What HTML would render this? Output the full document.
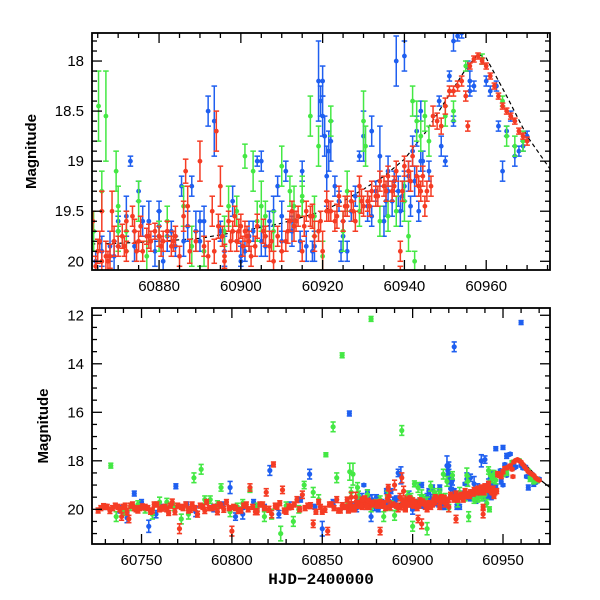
<!DOCTYPE html>
<html><head><meta charset="utf-8"><style>
html,body{margin:0;padding:0;background:#fff;}
svg{display:block;font-family:"Liberation Sans",sans-serif;}
</style></head><body>
<svg id="chart" width="600" height="600" viewBox="0 0 600 600" xmlns="http://www.w3.org/2000/svg"></svg>
<script>
// ---- data: [HJD-2400000, magnitude, error]
const blueT=[60864.5,60868,60870,60872,60873,60875,60876,60880,60882,60883,60884,60885.5,60888,60889,60891,60892,60893.5,60898,60899,60901,60903,60904,60905,60907,60908,60909,60911,60912.5,60914.5,60916,60917.5,60919,60919.5,60920,60920.5,60921,60922,60923,60924,60924.5,60927,60929,60930,60932,60934,60935,60936,60937,60938,60938.5,60939,60940,60941,60942,60943,60943.5,60944,60948.5,60950,60951,60953,60954,60955.5,60957,60960,60961,60962.5,60963,60964,60965,60966,60968,60969,60970,
60746,60754,60769,60821,60843,60865,60923,60960,60730,60738,60742,60750,60758,60762,60775,60780,60790,60795,60799,60802,60806,60812,60818,60826,60832,60838,60846,60850,60856,60870,60877,60880,60886,60890,60895,60900,60905,60910,60915,60920,60926,60932,60936,60940,60944,60946,60950,60952,60956,60967,
60866,60869,60874,60877.5,60879,60881,60887,60890,60896,60900,60902,60906,60910,60913,60918,60921.5,60925,60928,60931,60933,60935.5,60937.5,60939.5,60941.5,60942.5,60944.5,60946,60949,60952,60956];
const blueM=[20.0,19.85,19.7,19.55,19.0,19.3,19.6,19.65,19.75,19.7,19.85,19.25,19.25,19.7,19.6,18.5,18.6,19.4,19.8,19.9,19.7,19.0,19.8,19.6,19.5,19.25,19.1,19.7,19.8,19.85,19.9,18.2,18.4,18.55,18.75,19.15,18.8,19.25,19.4,19.9,19.5,18.95,18.75,19.55,18.95,19.6,19.1,19.4,18.0,19.3,19.5,19.25,19.15,18.9,18.7,19.5,18.5,18.4,19.0,18.15,17.75,17.72,18.05,18.25,18.2,18.3,18.25,18.65,19.1,18.7,18.55,18.9,18.85,18.75,
19.35,20.7,19.05,18.4,18.55,16.05,13.3,12.3,19.9,20.0,20.35,19.7,20.2,19.9,19.8,20.1,19.95,19.8,19.1,20.3,20.2,19.7,19.9,20.2,19.85,19.6,19.9,20.8,19.7,19.6,20.3,19.5,19.8,19.6,19.7,20.0,19.0,19.8,19.1,18.2,19.9,18.7,19.3,17.95,19.0,17.5,17.45,17.8,18.2,18.95,
19.9,19.95,19.85,19.6,19.9,20.0,19.65,19.8,19.9,19.95,19.75,19.85,19.55,19.6,19.85,18.9,19.75,19.35,19.45,19.3,19.4,19.2,19.35,19.45,19.2,19.0,19.1,18.85,18.6,18.3];
const blueE=[0.1,0.15,0.15,0.2,0.05,0.1,0.15,0.15,0.15,0.1,0.1,0.1,0.1,0.2,0.15,0.15,0.35,0.15,0.1,0.1,0.1,0.05,0.15,0.1,0.15,0.1,0.1,0.15,0.1,0.15,0.1,0.4,0.15,0.2,0.2,0.3,0.2,0.1,0.1,0.1,0.1,0.05,0.25,0.1,0.3,0.15,0.15,0.15,0.25,0.15,0.15,0.15,0.15,0.15,0.15,0.1,0.1,0.05,0.05,0.05,0.05,0.05,0.05,0.05,0.05,0.05,0.05,0.05,0.1,0.05,0.05,0.05,0.05,0.05,
0.1,0.25,0.1,0.2,0.2,0.1,0.2,0.08,0.1,0.15,0.2,0.1,0.15,0.1,0.1,0.2,0.15,0.1,0.25,0.15,0.2,0.1,0.1,0.15,0.15,0.1,0.1,0.3,0.1,0.1,0.2,0.1,0.15,0.1,0.1,0.2,0.1,0.1,0.1,0.15,0.1,0.15,0.1,0.15,0.1,0.08,0.08,0.1,0.1,0.1,
0.15,0.15,0.15,0.2,0.15,0.1,0.15,0.1,0.15,0.1,0.15,0.1,0.15,0.1,0.15,0.2,0.15,0.1,0.15,0.1,0.15,0.1,0.15,0.1,0.15,0.1,0.1,0.1,0.05,0.05];

const greenT=[60864,60865.2,60867,60869.5,60870,60872,60875,60877,60880,60888,60891,60897,60899,60901,60904,60905,60906,60908,60910,60913,60915,60917,60918,60919,60920,60925,60929,60930,60930.5,60934,60938,60941,60942,60943,60944,60945,60946,60950,60952,60955,60959,60964,60965,60967,60969,60942.5,
60733,60736,60740,60748,60756,60764,60772,60779,60783,60788,60794,60803,60810,60818,60827,60834,60840,60845,60852,60856,60858,60861,60877,60884,60890,60894,60900,60908,60912,60922,60931,
60744,60752,60760,60768,60776,60785,60792,60799,60806,60814,60822,60830,60837,60848,60866,60870,60882,60886,60896,60903,60915,60926,60936,60940];
const greenM=[19.7,18.45,18.55,19.1,19.45,19.7,19.4,19.95,19.75,19.85,19.9,19.45,19.5,18.95,19.6,19.45,19.55,19.7,19.05,19.45,19.35,18.55,19.55,18.85,19.95,19.7,19.5,18.6,18.85,19.6,19.5,19.75,18.4,18.6,18.75,18.55,18.8,18.55,18.5,18.05,17.98,18.4,18.75,18.85,18.8,20.0,
18.2,20.3,20.1,19.8,20.2,19.7,20.4,18.7,18.35,19.6,19.1,19.9,19.2,20.3,21.0,20.5,19.0,19.3,17.75,16.6,18.7,13.65,12.15,20.3,20.25,16.75,20.7,20.8,19.3,18.6,20.3,
19.9,20.0,19.7,19.9,20.2,19.6,19.8,20.1,19.75,19.9,20.2,19.85,20.0,19.6,19.3,19.7,19.6,19.45,19.7,19.1,19.4,19.3,19.55,19.4];
const greenE=[0.2,0.35,0.45,0.2,0.2,0.2,0.2,0.15,0.15,0.2,0.15,0.2,0.15,0.12,0.2,0.25,0.15,0.2,0.2,0.2,0.2,0.2,0.2,0.2,0.15,0.2,0.15,0.3,0.2,0.15,0.15,0.15,0.15,0.2,0.15,0.15,0.15,0.1,0.1,0.05,0.05,0.05,0.1,0.1,0.1,0.1,
0.1,0.2,0.15,0.15,0.2,0.15,0.2,0.2,0.2,0.15,0.15,0.15,0.1,0.2,0.3,0.2,0.15,0.2,0.08,0.2,0.2,0.1,0.1,0.2,0.2,0.2,0.2,0.25,0.15,0.15,0.2,
0.15,0.15,0.2,0.15,0.2,0.15,0.15,0.2,0.15,0.15,0.2,0.15,0.15,0.2,0.2,0.2,0.15,0.2,0.15,0.2,0.15,0.2,0.15,0.2];

const redT=[60863.8,60864.5,60865,60866,60867,60867.5,60868.5,60869,60870,60871,60872,60873.5,60874,60875,60875.5,60876,60877,60878,60879,60880,60881,60882,60883,60884,60885,60886,60886.5,60887,60892,60893,60894,60894.5,60895,60896,60897,60898,60898.5,60899,60900,60900.5,60901,60902,60902.5,60904,60906,60907,60908,60910,60912,60912.5,60913,60914,60915,60916,60917,60918,60919,60920,60921,60922,60923,60924,60925,60926,60927,60928,60929,60930,60931,60932,60933,60934,60935,60936,60937,60938,60939,60940,60941,60942,60943,60944,60945,60947,60948,60949,60950,60951,60952,60953,60954,60955,60955.5,60956,60957,60958,60959,60960,60961,60962,60963,60964,60965,60966,60967,60968,60969,60970,
60726,60729,60731,60734,60737,60739,60741,60743,60745,60747,60749,60752,60755,60757,60760,60763,60765,60767,60770,60771,60773,60776,60778,60781,60784,60786,60789,60792,60794,60797,60800,60802,60805,60808,60810,60814,60817,60819,60822,60823,60825,60828,60830,60833,60836,60839,60842,60845,60848,60850,60853,60855,60858,60860,60862,60866,60872,60882,60890,60896,60903,60905,60911,60921,60924,60939,
60727.5,60730,60732.5,60735.5,60738,60740,60742,60744,60746,60748,60750.5,60753.5,60756,60758.5,60761.5,60764,60766,60768.5,60772,60774.5,60777,60779.5,60782.5,60785,60787.5,60790.5,60793,60795.5,60798.5,60801,60803.5,60806.5,60809,60811.5,60813,60815.5,60818,60820.5,60824,60826.5,60829,60831.5,60834.5,60837.5,60840.5,60843.5,60846.5,60849,60851.5,60854,60856.5,60859,60861,60863,60865.5,60868,60871.5,60874.5,60877.5,60880.5,60883.5,60887.5,60889,60891,60893.5,60895.5,60897.5,60899.5,60901.5,60903.5,60905.5,60907.5,60909,60911.5,60913.5,60915.5,60917.5,60919.5,60921.5,60923.5,60925.5,60927.5,60929.5,60931.5,60933.5,60935.5,60937.5,60939.5,60941.5,60943.5,60944.5,60945.5,60946.5];
const redM=[19.6,20.05,19.9,19.5,19.95,20.0,19.5,19.8,19.85,19.75,19.9,19.55,19.7,19.8,19.65,19.9,19.75,19.8,19.7,19.75,19.8,19.7,19.85,19.75,19.95,19.55,19.1,19.45,19.95,19.5,18.7,19.65,19.25,19.95,19.6,19.7,19.55,19.8,19.65,19.85,19.7,19.8,19.95,19.65,19.75,19.85,20.0,19.9,19.6,19.5,19.65,19.55,19.9,19.5,19.55,19.75,19.7,19.9,19.4,19.5,19.6,19.35,19.6,19.45,19.4,19.6,19.25,19.45,19.4,19.3,19.35,19.2,19.25,19.15,19.3,19.1,19.9,19.05,19.1,18.95,19.15,19.3,19.45,18.55,18.6,18.65,18.45,18.3,18.3,18.25,18.2,18.35,18.65,18.05,17.98,17.95,18.0,18.05,18.15,18.25,18.35,18.45,18.5,18.55,18.6,18.7,18.75,18.8,
20.05,19.85,19.9,19.95,19.9,20.3,19.85,20.4,19.8,20.0,19.95,19.9,20.1,19.8,20.0,19.9,20.15,19.7,19.85,20.8,19.95,20.05,19.8,20.2,19.9,19.7,19.95,20.1,19.85,19.7,20.9,19.95,20.05,19.8,19.1,20.1,19.8,19.3,20.2,18.15,19.9,19.2,20.1,19.9,19.6,19.4,19.85,20.6,19.7,20.1,20.9,19.8,19.6,20.05,19.9,20.0,19.6,20.9,19.0,20.0,20.4,20.6,19.8,19.5,20.4,20.2,
19.95,19.9,20.05,19.85,20.0,19.9,20.1,19.85,19.95,20.05,19.9,19.95,20.05,19.8,19.95,20.0,19.85,20.1,19.9,19.8,20.0,19.95,19.85,20.05,19.95,19.9,19.8,20.0,19.95,19.9,20.05,19.85,20.0,19.9,20.1,19.8,19.95,20.0,19.85,19.75,20.05,19.9,19.8,20.0,19.95,19.85,20.1,19.9,20.0,19.8,19.95,20.05,19.85,19.9,19.8,19.95,19.85,19.9,19.75,19.85,19.8,19.9,19.8,19.85,19.9,19.75,19.8,19.7,19.75,19.85,19.7,19.8,19.75,19.7,19.6,19.65,19.55,19.6,19.5,19.55,19.45,19.5,19.4,19.45,19.35,19.3,19.25,19.3,19.2,19.25,19.15,19.3,19.25];
const redE=[0.1,0.1,0.12,0.2,0.15,0.1,0.2,0.15,0.1,0.12,0.1,0.1,0.12,0.1,0.1,0.1,0.08,0.1,0.08,0.1,0.1,0.1,0.1,0.1,0.1,0.15,0.12,0.2,0.15,0.15,0.2,0.12,0.2,0.12,0.1,0.1,0.1,0.1,0.12,0.1,0.1,0.1,0.1,0.12,0.1,0.15,0.1,0.1,0.1,0.1,0.15,0.1,0.1,0.1,0.1,0.15,0.1,0.2,0.1,0.1,0.1,0.1,0.1,0.1,0.1,0.1,0.1,0.1,0.1,0.1,0.1,0.1,0.1,0.1,0.1,0.1,0.1,0.1,0.1,0.1,0.1,0.1,0.1,0.1,0.08,0.08,0.08,0.05,0.05,0.05,0.05,0.05,0.05,0.03,0.03,0.03,0.03,0.03,0.03,0.03,0.03,0.03,0.03,0.03,0.03,0.03,0.03,0.04,
0.1,0.08,0.1,0.1,0.1,0.15,0.1,0.15,0.1,0.1,0.1,0.1,0.1,0.1,0.1,0.1,0.1,0.12,0.1,0.2,0.1,0.1,0.1,0.12,0.1,0.1,0.1,0.12,0.1,0.1,0.2,0.1,0.1,0.1,0.15,0.12,0.1,0.15,0.15,0.1,0.1,0.15,0.1,0.1,0.12,0.15,0.1,0.15,0.1,0.1,0.15,0.1,0.12,0.1,0.1,0.1,0.1,0.15,0.2,0.1,0.15,0.2,0.1,0.1,0.15,0.15,
0.1,0.1,0.12,0.1,0.1,0.1,0.12,0.1,0.1,0.1,0.12,0.1,0.1,0.1,0.12,0.1,0.1,0.12,0.1,0.1,0.12,0.1,0.1,0.12,0.1,0.1,0.1,0.12,0.1,0.1,0.12,0.1,0.1,0.1,0.12,0.1,0.1,0.12,0.1,0.1,0.1,0.12,0.1,0.1,0.1,0.12,0.1,0.1,0.12,0.1,0.1,0.1,0.12,0.1,0.1,0.12,0.1,0.1,0.12,0.1,0.1,0.12,0.1,0.1,0.12,0.1,0.1,0.12,0.1,0.1,0.12,0.1,0.1,0.12,0.1,0.1,0.12,0.1,0.1,0.12,0.1,0.1,0.12,0.1,0.1,0.1,0.1,0.1,0.1,0.1,0.1,0.1,0.1];

const modelT=[60860,60870,60880,60890,60900,60910,60920,60925,60930,60935,60940,60945,60950,60955,60958,60960,60965,60970,60976];
const modelM=[19.83,19.82,19.8,19.77,19.7,19.62,19.5,19.4,19.28,19.15,18.98,18.72,18.4,18.08,17.93,17.97,18.35,18.75,19.1];

const topXTicks=[60880,60900,60920,60940,60960];
const topYTicks=[18,18.5,19,19.5,20];
const botXTicks=[60750,60800,60850,60900,60950];
const botYTicks=[12,14,16,18,20];

const NS="http://www.w3.org/2000/svg";
const svg=document.getElementById('chart');
function mk(tag,attrs,parent){const e=document.createElementNS(NS,tag);for(const k in attrs)e.setAttribute(k,attrs[k]);(parent||svg).appendChild(e);return e;}

const panels=[
 {name:'zoom',L:92,R:550,T:33,B:270,x0:60863.6,x1:60975.6,y0:17.72,y1:20.087,xt:topXTicks,yt:topYTicks,xmin:5,ymin:0.1,ylabX:36,r:2.4,cap:2.8,sw:1.5},
 {name:'full',L:92,R:550,T:308,B:544,x0:60722.6,x1:60976,y0:11.7,y1:21.43,xt:botXTicks,yt:botYTicks,xmin:10,ymin:0.5,ylabX:48,r:2.6,cap:2.6,sw:1.6}
];
const colors={blue:'#1f5ff0',green:'#44e844',red:'#f53c24'};
const series=[['blue',blueT,blueM,blueE],['green',greenT,greenM,greenE],['red',redT,redM,redE]];

panels.forEach((p,pi)=>{
 const sx=v=>p.L+(v-p.x0)/(p.x1-p.x0)*(p.R-p.L);
 const sy=v=>p.T+(v-p.y0)/(p.y1-p.y0)*(p.B-p.T);
 const g=mk('g',{});
 
 
 const cid='clip'+pi;
 const cp=mk('clipPath',{id:cid},g);mk('rect',{x:p.L,y:p.T,width:p.R-p.L,height:p.B-p.T},cp);
 const dg=mk('g',{'clip-path':'url(#'+cid+')'},g);
 let d='';modelT.forEach((t,i)=>{d+=(i?'L':'M')+sx(t).toFixed(1)+','+sy(modelM[i]).toFixed(1);});
 const ml=mk('path',{d:d,fill:'none',stroke:'#000','stroke-width':1.2,'stroke-dasharray':pi===0?'4,3':'none'},dg);
 
 
 series.forEach(([c,T,M,E])=>{
  const sg=mk('g',{stroke:colors[c],fill:colors[c],'stroke-width':p.sw},dg);
  
  
  T.forEach((t,i)=>{
   const x=sx(t),y=sy(M[i]),ya=sy(M[i]-E[i]),yb=sy(M[i]+E[i]);
   const pt=mk('g',{},sg);
   
   
   mk('line',{x1:x,x2:x,y1:ya,y2:yb},pt);
   mk('line',{x1:x-p.cap,x2:x+p.cap,y1:ya,y2:ya},pt);
   mk('line',{x1:x-p.cap,x2:x+p.cap,y1:yb,y2:yb},pt);
   mk('circle',{cx:x,cy:y,r:p.r,stroke:'none'},pt);
  });
 });
 const fr=mk('rect',{x:p.L,y:p.T,width:p.R-p.L,height:p.B-p.T,fill:'none',stroke:'#000','stroke-width':1.8},g);
 
 
 const tg=mk('g',{stroke:'#000','stroke-width':1.3},g);
 for(let v=Math.ceil(p.x0/p.xmin)*p.xmin;v<=p.x1;v+=p.xmin){
  const major=p.xt.includes(v);const len=major?10:5;const x=sx(v);
  mk('line',{x1:x,x2:x,y1:p.B,y2:p.B-len},tg);mk('line',{x1:x,x2:x,y1:p.T,y2:p.T+len},tg);
 }
 for(let k=Math.ceil(p.y0/p.ymin-1e-6);k*p.ymin<=p.y1+1e-9;k++){
  const v=+(k*p.ymin).toFixed(3);const major=p.yt.some(t=>Math.abs(t-v)<1e-6);const len=major?10:5;const y=sy(v);
  mk('line',{x1:p.L,x2:p.L+len,y1:y,y2:y},tg);mk('line',{x1:p.R,x2:p.R-len,y1:y,y2:y},tg);
 }
 p.xt.forEach(v=>{const t=mk('text',{x:sx(v),y:p.B+21,'text-anchor':'middle','font-size':15},g);t.textContent=String(v);
  
  });
 p.yt.forEach(v=>{const t=mk('text',{x:p.L-8,y:sy(v)+5,'text-anchor':'end','font-size':15},g);t.textContent=String(v);
  
  });
 const yl=mk('text',{x:p.ylabX,y:(p.T+p.B)/2,'text-anchor':'middle','font-size':15,'font-weight':'bold',transform:'rotate(-90 '+p.ylabX+' '+(p.T+p.B)/2+')'},g);
 yl.textContent='Magnitude';
 
 
});
const xt=mk('text',{x:321,y:584,'text-anchor':'middle','font-size':16,'font-family':'Liberation Mono, monospace','font-weight':'bold'});
xt.textContent='HJD\u22122400000';


</script>
</body></html>
